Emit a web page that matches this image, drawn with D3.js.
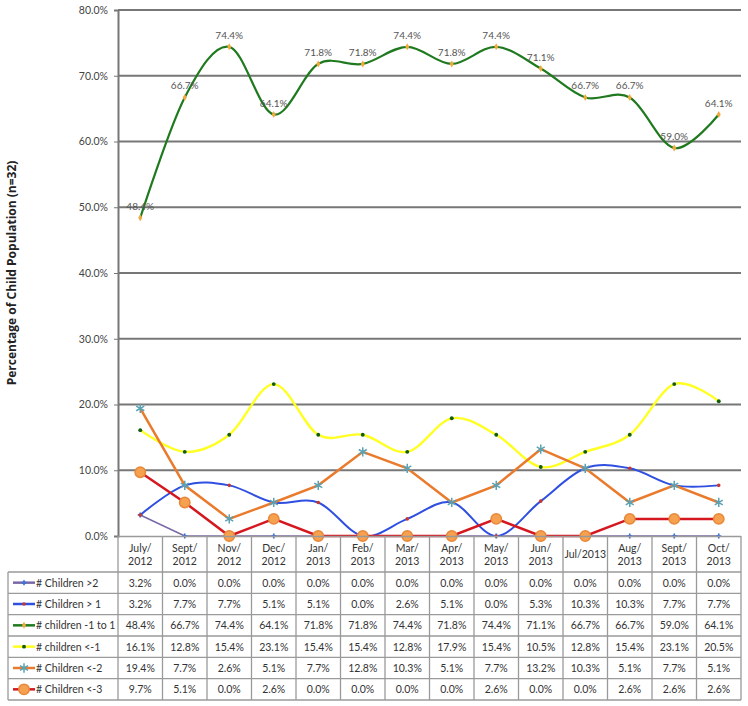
<!DOCTYPE html>
<html>
<head>
<meta charset="utf-8">
<script src="https://cdn.jsdelivr.net/npm/d3@7"></script>
<style>
  body { margin: 0; background: #fff; }
  #viz_container { width: 748px; height: 706px; }
  text { font-family: Lato, "Open Sans", sans-serif; }
</style>
</head>
<body>
<div id="viz_container"></div>
<script>
// Data
const months = ["July/\n2012", "Sept/\n2012", "Nov/\n2012", "Dec/\n2012", "Jan/\n2013", "Feb/\n2013",
  "Mar/\n2013", "Apr/\n2013", "May/\n2013", "Jun/\n2013", "Jul/2013", "Aug/\n2013", "Sept/\n2013", "Oct/\n2013"];
const seriesNames = ["# Children >2", "# Children > 1", "# children -1 to 1", "# children <-1", "# Children <-2", "# Children <-3"];
const childrenGt2 = [3.2, 0, 0, 0, 0, 0, 0, 0, 0, 0, 0, 0, 0, 0];
const childrenGt1 = [3.2, 7.7, 7.7, 5.1, 5.1, 0, 2.6, 5.1, 0, 5.3, 10.3, 10.3, 7.7, 7.7];
const childrenMid = [48.4, 66.7, 74.4, 64.1, 71.8, 71.8, 74.4, 71.8, 74.4, 71.1, 66.7, 66.7, 59.0, 64.1];
const childrenLtM1 = [16.1, 12.8, 15.4, 23.1, 15.4, 15.4, 12.8, 17.9, 15.4, 10.5, 12.8, 15.4, 23.1, 20.5];
const childrenLtM2 = [19.4, 7.7, 2.6, 5.1, 7.7, 12.8, 10.3, 5.1, 7.7, 13.2, 10.3, 5.1, 7.7, 5.1];
const childrenLtM3 = [9.7, 5.1, 0, 2.6, 0, 0, 0, 0, 2.6, 0, 0, 2.6, 2.6, 2.6];
const yTicks = [0, 10, 20, 30, 40, 50, 60, 70, 80];

const width = 748;
const height = 706;

const svg = d3
  .select("#viz_container")
  .append("svg")
  .attr("width", width)
  .attr("height", height)
  .attr("viewBox", `0 0 ${width} ${height}`);

const plot = { left: 118, right: 741, top: 10, bottom: 536 };
const table = { left: 8, headerBottom: 572, bottom: 700 };

const x = d3.scaleBand().domain(months).range([plot.left, plot.right]);
const y = d3.scaleLinear().domain([0, 80]).range([plot.bottom, plot.top]);
const cx = (i) => x(months[i]) + x.bandwidth() / 2;

// style per series
const styles = [
  { data: childrenGt2, color: "#7a68a6", width: 1.5, smooth: false,
    marker: { type: d3.symbolCross, size: 14, fill: "#3d6fd8", stroke: "none" } },
  { data: childrenGt1, color: "#2f4fe0", width: 2, smooth: true,
    marker: { type: d3.symbolCircle, size: 10, fill: "#c8362c", stroke: "none" } },
  { data: childrenMid, color: "#1f7a1f", width: 2.2, smooth: true,
    marker: { type: d3.symbolDiamond, size: 14, fill: "#f2a93b", stroke: "none" } },
  { data: childrenLtM1, color: "#ffff22", width: 2.4, smooth: true,
    marker: { type: d3.symbolCircle, size: 12, fill: "#125c12", stroke: "none" } },
  { data: childrenLtM2, color: "#ea7a2c", width: 2.5, smooth: false,
    marker: { type: d3.symbolAsterisk, size: 60, fill: "none", stroke: "#5aa2b4" } },
  { data: childrenLtM3, color: "#d5171f", width: 2.5, smooth: false,
    marker: { type: d3.symbolCircle, size: 85, fill: "#f5a150", stroke: "#e8883a" } }
];

// gridlines
svg.append("g")
  .selectAll("line")
  .data(yTicks.filter((d) => d > 0))
  .enter()
  .append("line")
  .attr("x1", plot.left)
  .attr("x2", plot.right)
  .attr("y1", (d) => y(d))
  .attr("y2", (d) => y(d))
  .attr("stroke", "#777")
  .attr("stroke-width", 2);

// y axis
const yAxis = svg.append("g")
  .attr("transform", `translate(${plot.left},0)`)
  .call(d3.axisLeft(y).tickValues(yTicks).tickSize(4).tickPadding(6).tickFormat((d) => d3.format(".1f")(d) + "%"));
yAxis.select(".domain").attr("stroke", "#777").attr("stroke-width", 2);
yAxis.selectAll(".tick line").attr("stroke", "#777");
yAxis.selectAll(".tick text").attr("fill", "#444").style("font-size", "10.5px");

svg.append("text")
  .attr("transform", `translate(16,${(plot.top + plot.bottom) / 2}) rotate(-90)`)
  .attr("text-anchor", "middle")
  .attr("fill", "#222")
  .style("font-family", "'Open Sans', sans-serif")
  .style("font-size", "12px")
  .style("font-weight", "bold")
  .text("Percentage of Child Population (n=32)");

// lines
const lines = svg.append("g");
styles.forEach((s) => {
  const gen = d3.line()
    .x((d, i) => cx(i))
    .y((d) => y(d))
    .curve(s.smooth ? d3.curveCardinal.tension(0) : d3.curveLinear);
  lines.append("path")
    .datum(s.data)
    .attr("fill", "none")
    .attr("stroke", s.color)
    .attr("stroke-width", s.width)
    .attr("d", gen);
});

// markers
const markers = svg.append("g");
styles.forEach((s) => {
  markers.append("g")
    .selectAll("path")
    .data(s.data)
    .enter()
    .append("path")
    .attr("transform", (d, i) => `translate(${cx(i)},${y(d)})`)
    .attr("d", d3.symbol().type(s.marker.type).size(s.marker.size))
    .attr("fill", s.marker.fill)
    .attr("stroke", s.marker.stroke)
    .attr("stroke-width", 1.5);
});

// data labels on the -1 to 1 series
svg.append("g")
  .selectAll("text")
  .data(childrenMid)
  .enter()
  .append("text")
  .attr("x", (d, i) => cx(i))
  .attr("y", (d) => y(d) - 8)
  .attr("text-anchor", "middle")
  .attr("fill", "#555")
  .style("font-size", "10px")
  .text((d) => d3.format(".1f")(d) + "%");

// data table
const rowH = (table.bottom - table.headerBottom) / seriesNames.length;
const grid = svg.append("g").attr("stroke", "#9a9a9a").attr("stroke-width", 1.3);

months.forEach((m) => {
  grid.append("line")
    .attr("x1", x(m)).attr("x2", x(m))
    .attr("y1", plot.bottom).attr("y2", table.bottom);
});
grid.append("line")
  .attr("x1", plot.right).attr("x2", plot.right)
  .attr("y1", plot.bottom).attr("y2", table.bottom);
grid.append("line")
  .attr("x1", table.left).attr("x2", table.left)
  .attr("y1", table.headerBottom).attr("y2", table.bottom);
grid.append("line")
  .attr("x1", plot.left).attr("x2", plot.right)
  .attr("y1", plot.bottom + 0.5).attr("y2", plot.bottom + 0.5);
d3.range(seriesNames.length + 1).forEach((r) => {
  grid.append("line")
    .attr("x1", table.left).attr("x2", plot.right)
    .attr("y1", table.headerBottom + r * rowH).attr("y2", table.headerBottom + r * rowH);
});

// header labels
const header = svg.append("g");
months.forEach((m, i) => {
  const parts = m.split("\n");
  const t = header.append("text")
    .attr("x", cx(i))
    .attr("text-anchor", "middle")
    .attr("fill", "#333")
    .style("font-size", "10.5px");
  const mid = (plot.bottom + table.headerBottom) / 2;
  parts.forEach((p, k) => {
    t.append("tspan")
      .attr("x", cx(i))
      .attr("y", mid + 4 + (k - (parts.length - 1) / 2) * 13)
      .text(p);
  });
});

// rows
styles.forEach((s, r) => {
  const rowY = table.headerBottom + r * rowH + rowH / 2;
  const row = svg.append("g");
  row.append("line")
    .attr("x1", 13).attr("x2", 35)
    .attr("y1", rowY).attr("y2", rowY)
    .attr("stroke", s.color)
    .attr("stroke-width", 2.5);
  row.append("path")
    .attr("transform", `translate(24,${rowY})`)
    .attr("d", d3.symbol().type(s.marker.type).size(s.marker.size))
    .attr("fill", s.marker.fill)
    .attr("stroke", s.marker.stroke)
    .attr("stroke-width", 1.5);
  row.append("text")
    .attr("x", 36)
    .attr("y", rowY + 4)
    .attr("fill", "#333")
    .style("font-size", "10.5px")
    .text(seriesNames[r]);
  row.selectAll("text.val")
    .data(s.data)
    .enter()
    .append("text")
    .attr("class", "val")
    .attr("x", (d, i) => cx(i))
    .attr("y", rowY + 4)
    .attr("text-anchor", "middle")
    .attr("fill", "#333")
    .style("font-size", "10.5px")
    .text((d) => d3.format(".1f")(d) + "%");
});
</script>
</body>
</html>
